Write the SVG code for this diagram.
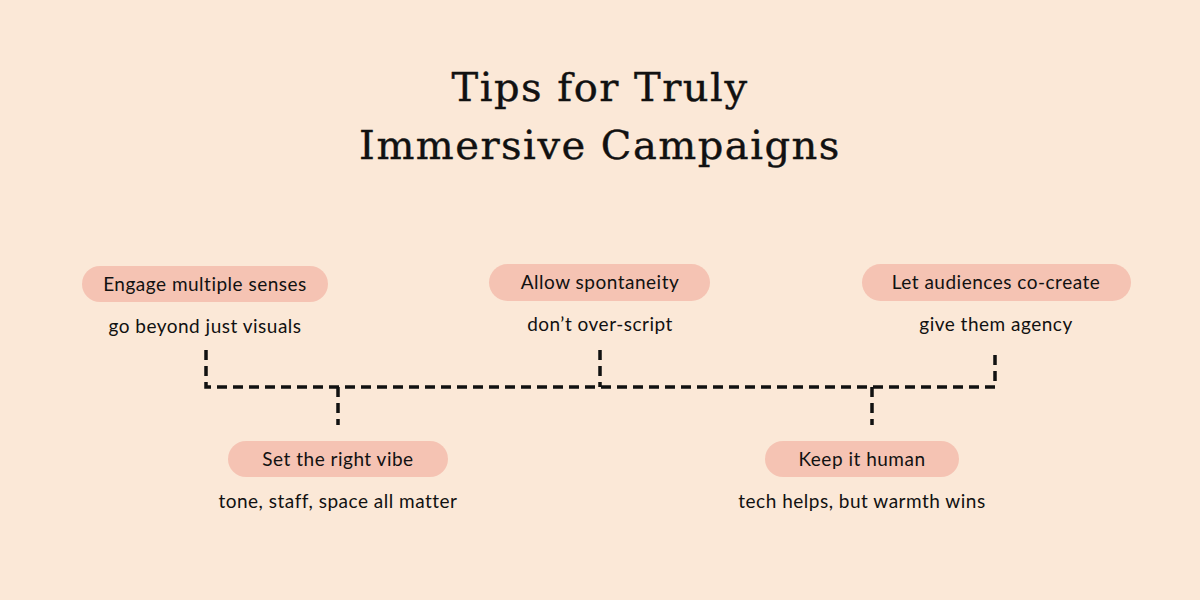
<svg xmlns="http://www.w3.org/2000/svg" width="1200" height="600" viewBox="0 0 1200 600">
<style>
.t{font-family:"DejaVu Serif","Liberation Serif",serif;font-size:40px;fill:#111;text-anchor:middle;letter-spacing:1.5px;stroke:#111;stroke-width:0.4}
.p{fill:#f5c3b3}
.l{font-family:Lato,"Open Sans",sans-serif;font-size:19px;fill:#111;text-anchor:middle;letter-spacing:0.5px}
.c{fill:none;stroke:#111;stroke-width:3.5;stroke-dasharray:10 6}
</style>
<rect width="1200" height="600" fill="#fbe8d7"/>
<text class="t" x="600" y="101">Tips for Truly</text>
<text class="t" x="600" y="159">Immersive Campaigns</text>
<g id="connectors">
<path class="c" d="M206 350V387H995V350M600 350V387M338 387V425M872 387V425"/>
</g>
<g id="n1"><rect class="p" x="82" y="266" width="246" height="36" rx="18"/><text class="l" x="205" y="291">Engage multiple senses</text><text class="l" x="205" y="333">go beyond just visuals</text></g>
<g id="n2"><rect class="p" x="489" y="264" width="221" height="37" rx="18.5"/><text class="l" x="600" y="289">Allow spontaneity</text><text class="l" x="600" y="331">don’t over-script</text></g>
<g id="n3"><rect class="p" x="862" y="264" width="269" height="37" rx="18.5"/><text class="l" x="996" y="289">Let audiences co-create</text><text class="l" x="996" y="331">give them agency</text></g>
<g id="n4"><rect class="p" x="228" y="441" width="220" height="36" rx="18"/><text class="l" x="338" y="466">Set the right vibe</text><text class="l" x="338" y="508">tone, staff, space all matter</text></g>
<g id="n5"><rect class="p" x="765" y="441" width="194" height="36" rx="18"/><text class="l" x="862" y="466">Keep it human</text><text class="l" x="862" y="508">tech helps, but warmth wins</text></g>
</svg>
